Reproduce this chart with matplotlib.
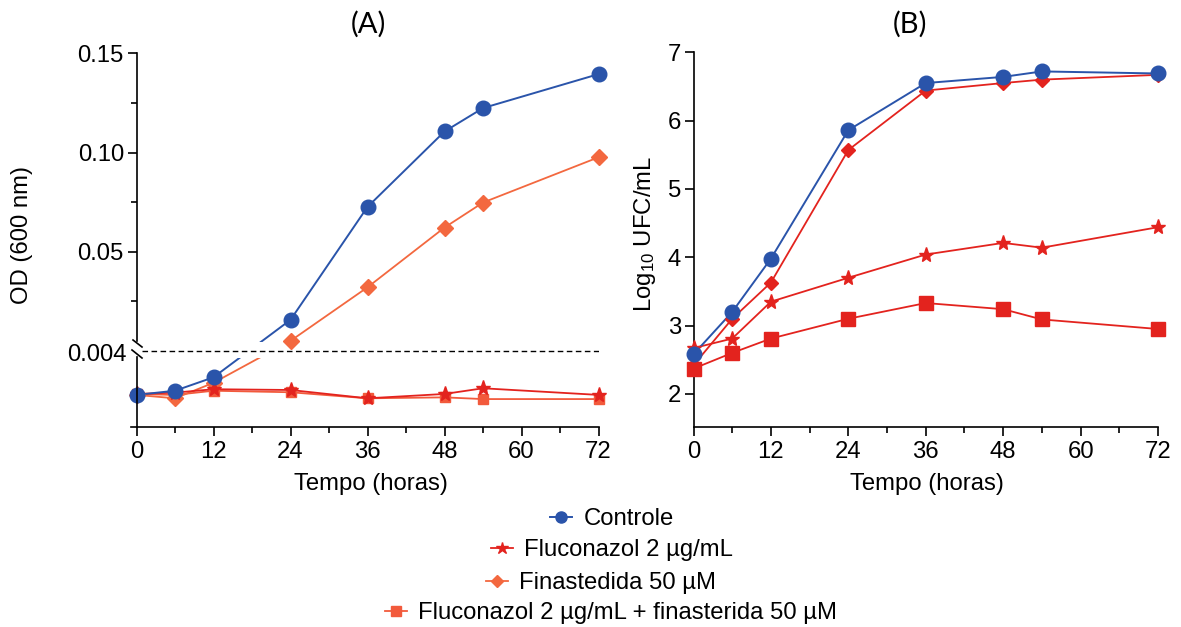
import numpy as np
import matplotlib
matplotlib.use("Agg")
import matplotlib.pyplot as plt
from matplotlib.lines import Line2D

plt.rcParams["font.family"] = ["Liberation Sans", "DejaVu Sans"]
plt.rcParams["mathtext.fontset"] = "custom"
plt.rcParams["mathtext.rm"] = "Liberation Sans"
plt.rcParams["mathtext.default"] = "regular"

# ---------------- data ----------------
hours = [0, 6, 12, 24, 36, 48, 54, 72]

# (A) optical density at 600 nm
od_controle = [0.00168, 0.00190, 0.00261, 0.0157, 0.0726, 0.1106, 0.1224, 0.1395]
od_fluco = [0.00173, 0.00180, 0.00198, 0.00194, 0.00150, 0.00173, 0.00203, 0.00168]
od_finast = [0.00168, 0.00150, 0.00232, 0.0051, 0.0321, 0.0622, 0.0748, 0.0976]
od_combo = [0.00173, 0.00168, 0.00190, 0.00182, 0.00150, 0.00155, 0.00146, 0.00146]

# (B) log10 CFU/mL
ufc_controle = [2.58, 3.20, 3.98, 5.86, 6.55, 6.64, 6.72, 6.69]
ufc_fluco = [2.67, 2.81, 3.35, 3.70, 4.04, 4.21, 4.14, 4.44]
ufc_finast = [2.42, 3.10, 3.63, 5.57, 6.44, 6.55, 6.60, 6.67]
ufc_combo = [2.37, 2.60, 2.81, 3.10, 3.33, 3.24, 3.09, 2.95]

labels = ["Controle", "Fluconazol 2 µg/mL", "Finastedida 50 µM",
          "Fluconazol 2 µg/mL + finasterida 50 µM"]

BLUE = "#2a54aa"
RED = "#e3231e"
ORANGE = "#f3683f"
SALMON = "#f25a3c"

W, H = 1181, 627
fig = plt.figure(figsize=(W / 100, H / 100), dpi=100)


def px_axes(left, right, top, bottom):
    return fig.add_axes([left / W, 1 - bottom / H, (right - left) / W, (bottom - top) / H])


def px_line(xs, ys, **kw):
    fig.add_artist(Line2D([x / W for x in xs], [1 - y / H for y in ys],
                          transform=fig.transFigure, **kw))


FS = 17.2

# ---------------- panel A: broken OD axis ----------------
BREAK = 0.004
LOW_H, UP_H = 75.7, 297.7   # heights of the two segments (display units)


def fwd(v):
    v = np.asarray(v, dtype=float)
    return np.where(v <= BREAK, v / BREAK * LOW_H, LOW_H + v / 0.15 * UP_H)


def inv(d):
    d = np.asarray(d, dtype=float)
    jump = LOW_H + BREAK / 0.15 * UP_H
    return np.where(d <= LOW_H, d / LOW_H * BREAK,
                    np.where(d < jump, BREAK, (d - LOW_H) / UP_H * 0.15))


axA = px_axes(136.5, 598.5, 53.3, 426.7)
axA.set_yscale("function", functions=(fwd, inv))
axA.set_xlim(0, 72)
axA.set_ylim(0, 0.15)

seriesA = [
    (od_combo, SALMON, "s", 7, 1.3),
    (od_finast, ORANGE, "D", 8, 1.3),
    (od_fluco, RED, "*", 11, 1.3),
    (od_controle, BLUE, "o", 10.5, 1.4),
]
for i, (vals, col, mk, ms, lw) in enumerate(seriesA):
    axA.plot(hours, vals, "-", color=col, lw=lw, zorder=2)
    axA.plot(hours, vals, ls="none", marker=mk, ms=ms, color=col,
             mec=col, zorder=5 + i, clip_on=False)

# gap in the curves around the axis break, then the dashed break line
axA.axhspan(0.00363, 0.00453, xmin=0.012, xmax=1, color="white", zorder=3, lw=0)
axA.plot([0.85, 72], [BREAK, BREAK], color="black", lw=1.0,
         dashes=(4, 2.5), zorder=4)

axA.set_xticks(range(0, 73, 12))
axA.set_xticks([6, 18, 30, 42, 54, 66], minor=True)
axA.set_yticks([0.05, 0.10, 0.15])
axA.set_yticklabels(["0.05", "0.10", "0.15"])
axA.set_yticks([0.025, 0.075, 0.125], minor=True)
axA.spines["left"].set_visible(False)

# broken left spine with slanted cut marks
sx = 136.5
px_line([sx, sx], [53.3, 341], color="black", lw=1.2)
px_line([133, 142], [340, 347], color="black", lw=1.2)
px_line([132, 142], [350, 358], color="black", lw=1.2)
px_line([sx, sx], [357, 426.7], color="black", lw=1.2)
fig.text(127 / W, 1 - 355 / H, "0.004", ha="right", va="center", fontsize=FS)

# ---------------- panel B ----------------
axB = px_axes(693.5, 1158, 52.3, 426.7)
axB.set_xlim(0, 72)
axB.set_ylim(1.52, 7)
seriesB = [
    (ufc_combo, RED, "s", 10.5, 1.3),
    (ufc_fluco, RED, "*", 11, 1.3),
    (ufc_finast, RED, "D", 7.5, 1.3),
    (ufc_controle, BLUE, "o", 10.5, 1.4),
]
for i, (vals, col, mk, ms, lw) in enumerate(seriesB):
    axB.plot(hours, vals, "-", color=col, lw=lw, zorder=2 + i)
    axB.plot(hours, vals, ls="none", marker=mk, ms=ms, color=col,
             mec=col, zorder=6 + i, clip_on=False)
axB.set_xticks(range(0, 73, 12))
axB.set_xticks([6, 18, 30, 42, 54, 66], minor=True)
axB.set_yticks(range(2, 8))

for ax in (axA, axB):
    for s in ("top", "right"):
        ax.spines[s].set_visible(False)
    for s in ("left", "bottom"):
        ax.spines[s].set_linewidth(1.2)
    ax.tick_params(which="major", direction="out", length=6.5, width=1.2,
                   labelsize=FS, pad=2.5)
    ax.tick_params(which="minor", direction="out", length=4, width=1.2)
    ax.tick_params(axis="x", which="major", pad=4)
    ax.tick_params(axis="y", which="minor", length=4)
axA.spines["bottom"].set_bounds(-0.8, 72)

# titles and axis labels
fig.text(368.5 / W, 1 - 24 / H, "(A)", ha="center", va="center",
         fontsize=21, family=["Lato", "DejaVu Sans"])
fig.text(910 / W, 1 - 24 / H, "(B)", ha="center", va="center",
         fontsize=21, family=["Lato", "DejaVu Sans"])
fig.text(371 / W, 1 - 484 / H, "Tempo (horas)", ha="center", va="center", fontsize=FS)
fig.text(927 / W, 1 - 484 / H, "Tempo (horas)", ha="center", va="center", fontsize=FS)
fig.text(22 / W, 1 - 235 / H, "OD (600 nm)", rotation=90, ha="center",
         va="center", fontsize=FS)
fig.text(645 / W, 1 - 234 / H, "Log$_{10}$ UFC/mL", rotation=90, ha="center",
         va="center", fontsize=FS)

# legend: one centred row per treatment
legend_rows = [
    (Line2D([], [], color=BLUE, marker="o", ms=8, lw=1.4), 550, 519),
    (Line2D([], [], color=RED, marker="*", ms=9, lw=1.3), 491, 550),
    (Line2D([], [], color=ORANGE, marker="D", ms=6.5, lw=1.3), 486, 583),
    (Line2D([], [], color=SALMON, marker="s", ms=6.5, lw=1.3), 385, 613),
]
for (handle, x0, y0), text in zip(legend_rows, labels):
    fig.legend([handle], [text], loc="center left",
               bbox_to_anchor=(x0 / W, 1 - y0 / H), frameon=False,
               fontsize=FS, handlelength=0.9, handletextpad=0.5,
               borderpad=0, borderaxespad=0)

fig.savefig("out.png", dpi=100)
